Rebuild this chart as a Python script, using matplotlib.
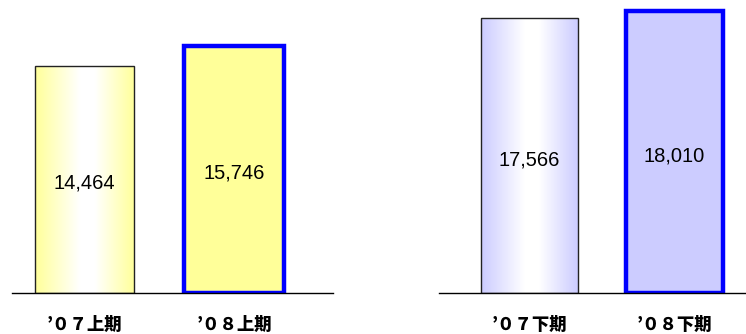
import matplotlib
matplotlib.use("Agg")
import matplotlib.pyplot as plt
import numpy as np
from matplotlib.colors import LinearSegmentedColormap

plt.rcParams['font.family'] = ['Noto Sans CJK JP', 'DejaVu Sans']

# data
labels_first = ["’０７上期", "’０８上期"]
values_first = [14464, 15746]
labels_second = ["’０７下期", "’０８下期"]
values_second = [17566, 18010]

yellow = "#ffff99"
lavender = "#ccccff"

fig = plt.figure(figsize=(7.46, 3.34), dpi=100)
W, H = 746, 334


def draw_panel(ax, labels, values, color, xlim):
    x = np.arange(len(values))
    bars = ax.bar(x, values, width=0.665, color=color, edgecolor="#222222",
                  linewidth=1.0, zorder=2)
    # gradient on the first bar
    b0 = bars[0]
    b0.set_facecolor("none")
    cmap = LinearSegmentedColormap.from_list(
        "g", [(0, color), (0.45, "white"), (0.6, "white"), (1, color)])
    grad = np.linspace(0, 1, 256).reshape(1, -1)
    bx, by = b0.get_x(), b0.get_y()
    im = ax.imshow(grad, cmap=cmap, aspect="auto", zorder=1,
                   extent=(bx, bx + b0.get_width(), by, by + b0.get_height()))
    im.set_clip_path(b0)
    # highlighted second bar
    bars[1].set_edgecolor("#0000ff")
    bars[1].set_linewidth(3.2)

    for xi, v in zip(x, values):
        ax.text(xi, v * 0.485, f"{v:,}", ha="center", va="center",
                fontsize=14.5, family="Liberation Sans", zorder=3)

    ax.set_xlim(*xlim)
    ax.set_ylim(0, 18700)
    ax.set_xticks(x)
    ax.set_xticklabels(labels, fontsize=12.5, fontweight="heavy")
    ax.tick_params(axis="x", length=0, pad=16.5)
    ax.set_yticks([])
    for s in ["top", "right", "left"]:
        ax.spines[s].set_visible(False)
    ax.spines["bottom"].set_linewidth(1.0)
    ax.patch.set_alpha(0)


bottom = (H - 293) / H
ax1 = fig.add_axes([12 / W, bottom, 321 / W, 293 / H])
draw_panel(ax1, labels_first, values_first, yellow, (-0.485, 1.662))

ax2 = fig.add_axes([439 / W, bottom, 307 / W, 293 / H])
draw_panel(ax2, labels_second, values_second, lavender, (-0.624, 1.493))

fig.savefig("out.png", dpi=100)
